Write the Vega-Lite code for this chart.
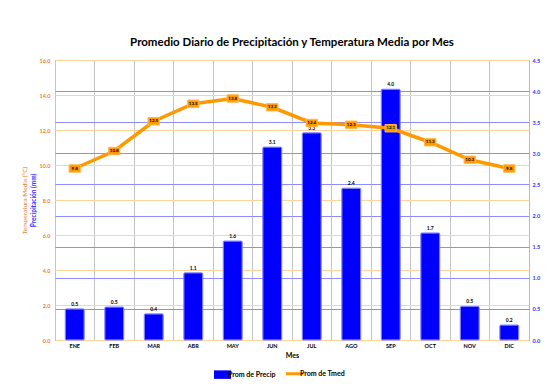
{
  "$schema": "https://vega.github.io/schema/vega-lite/v6.json",
  "width": 474,
  "height": 280,
  "autosize": {"type": "none"},
  "padding": {"left": 55, "top": 60, "right": 19, "bottom": 49},
  "background": "white",
  "config": {
    "font": "Lato",
    "view": {"stroke": "#BBBBBB", "strokeWidth": 1}
  },
  "title": {
    "text": "Promedio Diario de Precipitación y Temperatura Media por Mes",
    "fontSize": 11.5,
    "fontWeight": "bold",
    "color": "#000000",
    "anchor": "middle",
    "offset": 10
  },
  "data": {
    "values": [
      {"Mes": "ENE", "Precip": 0.5, "Tmed": 9.8},
      {"Mes": "FEB", "Precip": 0.53, "Tmed": 10.8},
      {"Mes": "MAR", "Precip": 0.42, "Tmed": 12.5},
      {"Mes": "ABR", "Precip": 1.08, "Tmed": 13.5},
      {"Mes": "MAY", "Precip": 1.59, "Tmed": 13.8},
      {"Mes": "JUN", "Precip": 3.1, "Tmed": 13.3},
      {"Mes": "JUL", "Precip": 3.33, "Tmed": 12.4},
      {"Mes": "AGO", "Precip": 2.44, "Tmed": 12.3},
      {"Mes": "SEP", "Precip": 4.03, "Tmed": 12.1},
      {"Mes": "OCT", "Precip": 1.72, "Tmed": 11.3},
      {"Mes": "NOV", "Precip": 0.54, "Tmed": 10.3},
      {"Mes": "DIC", "Precip": 0.24, "Tmed": 9.8}
    ]
  },
  "encoding": {
    "x": {
      "field": "Mes",
      "type": "nominal",
      "sort": null,
      "scale": {"paddingInner": 0, "paddingOuter": 0},
      "axis": {
        "title": "Mes",
        "titleFontSize": 7,
        "titleFontWeight": "bold",
        "titleColor": "#000000",
        "titlePadding": 3,
        "labelAngle": 0,
        "labelFontSize": 5.5,
        "labelFontWeight": "bold",
        "labelColor": "#000000",
        "labelPadding": 3,
        "domain": false,
        "ticks": false,
        "grid": true,
        "bandPosition": 0,
        "gridColor": "#C4C4C4",
        "gridWidth": 1
      }
    }
  },
  "layer": [
    {
      "encoding": {
        "y": {
          "field": "Precip",
          "type": "quantitative",
          "scale": {"domain": [0, 4.5], "nice": false},
          "axis": {
            "orient": "right",
            "values": [0, 0.5, 1, 1.5, 2, 2.5, 3, 3.5, 4, 4.5],
            "format": ".1f",
            "labelColor": "#3333FF",
            "labelFontSize": 5.5,
            "labelFontWeight": "bold",
            "labelPadding": 3,
            "domain": false,
            "ticks": false,
            "grid": true,
            "gridColor": "#8C8CFF",
            "gridWidth": 1.2,
            "title": "Precipitación (mm)",
            "titleColor": "#3333FF",
            "titleFontSize": 6.5,
            "titleFontWeight": "bold",
            "titleAngle": 270,
            "titleX": -496,
            "titleY": 140,
            "titleAlign": "center",
            "titleBaseline": "middle"
          }
        }
      },
      "layer": [
        {
          "mark": {"type": "bar", "width": {"band": 0.48}, "stroke": "#7777FF", "strokeWidth": 1, "cornerRadius": 1},
          "encoding": {
            "color": {
              "datum": "Prom de Precip",
              "type": "nominal",
              "scale": {"domain": ["Prom de Precip", "Prom de Tmed"], "range": ["#0000FF", "#FF9900"]},
              "legend": {
                "title": null,
                "orient": "none",
                "direction": "horizontal",
                "legendX": 164,
                "legendY": 310,
                "labelFontSize": 7,
                "labelFontWeight": "bold",
                "labelColor": "#000000",
                "symbolSize": 289,
                "columnPadding": 4,
                "labelOffset": 2,
                "encode": {
                  "symbols": {
                    "update": {
                      "shape": {"signal": "datum.value === 'Prom de Precip' ? 'M-1,-0.5H1V0.5H-1Z' : 'M-1,0H1'"},
                      "fill": {"signal": "datum.value === 'Prom de Precip' ? '#0000FF' : 'transparent'"},
                      "stroke": {"signal": "datum.value === 'Prom de Precip' ? '#0000FF' : '#FF9900'"},
                      "strokeWidth": {"signal": "datum.value === 'Prom de Precip' ? 0 : 3"},
                      "opacity": {"value": 1}
                    }
                  }
                }
              }
            }
          }
        },
        {
          "mark": {"type": "text", "dy": -5, "fontSize": 5, "fontWeight": "bold", "color": "#000000"},
          "encoding": {
            "text": {"field": "Precip", "type": "quantitative", "format": ".1f"}
          }
        }
      ]
    },
    {
      "encoding": {
        "y": {
          "field": "Tmed",
          "type": "quantitative",
          "scale": {"domain": [0, 16], "nice": false},
          "axis": {
            "orient": "left",
            "values": [0, 2, 4, 6, 8, 10, 12, 14, 16],
            "format": ".1f",
            "labelColor": "#ED7D31",
            "labelFontSize": 5.5,
            "labelFontWeight": "bold",
            "labelPadding": 5,
            "domain": false,
            "ticks": false,
            "grid": true,
            "gridColor": "#FFD49A",
            "gridWidth": 1.2,
            "title": "Temperatura Media (°C)",
            "titleColor": "#ED7D31",
            "titleFontSize": 6.5,
            "titleFontWeight": "normal",
            "titleAngle": 270,
            "titleX": -31,
            "titleY": 140,
            "titleAlign": "center",
            "titleBaseline": "middle"
          }
        }
      },
      "layer": [
        {
          "mark": {"type": "line", "strokeWidth": 3.5},
          "encoding": {
            "color": {
              "datum": "Prom de Tmed",
              "type": "nominal",
              "legend": {
                "title": null,
                "orient": "none",
                "direction": "horizontal",
                "legendX": 164,
                "legendY": 310,
                "labelFontSize": 7,
                "labelFontWeight": "bold",
                "labelColor": "#000000",
                "symbolSize": 289,
                "columnPadding": 4,
                "labelOffset": 2,
                "encode": {
                  "symbols": {
                    "update": {
                      "shape": {"signal": "datum.value === 'Prom de Precip' ? 'M-1,-0.5H1V0.5H-1Z' : 'M-1,0H1'"},
                      "fill": {"signal": "datum.value === 'Prom de Precip' ? '#0000FF' : 'transparent'"},
                      "stroke": {"signal": "datum.value === 'Prom de Precip' ? '#0000FF' : '#FF9900'"},
                      "strokeWidth": {"signal": "datum.value === 'Prom de Precip' ? 0 : 3"},
                      "opacity": {"value": 1}
                    }
                  }
                }
              }
            }
          }
        },
        {
          "mark": {"type": "point", "shape": "M-1,-0.65H1V0.65H-1Z", "size": 130, "filled": true, "fill": "#FF9900", "stroke": "#FFB84D", "strokeWidth": 1, "opacity": 1}
        },
        {
          "mark": {"type": "text", "fontSize": 4.5, "fontWeight": "bold", "color": "#000000", "baseline": "middle"},
          "encoding": {
            "text": {"field": "Tmed", "type": "quantitative", "format": ".1f"}
          }
        }
      ]
    }
  ],
  "resolve": {"scale": {"y": "independent"}}
}
